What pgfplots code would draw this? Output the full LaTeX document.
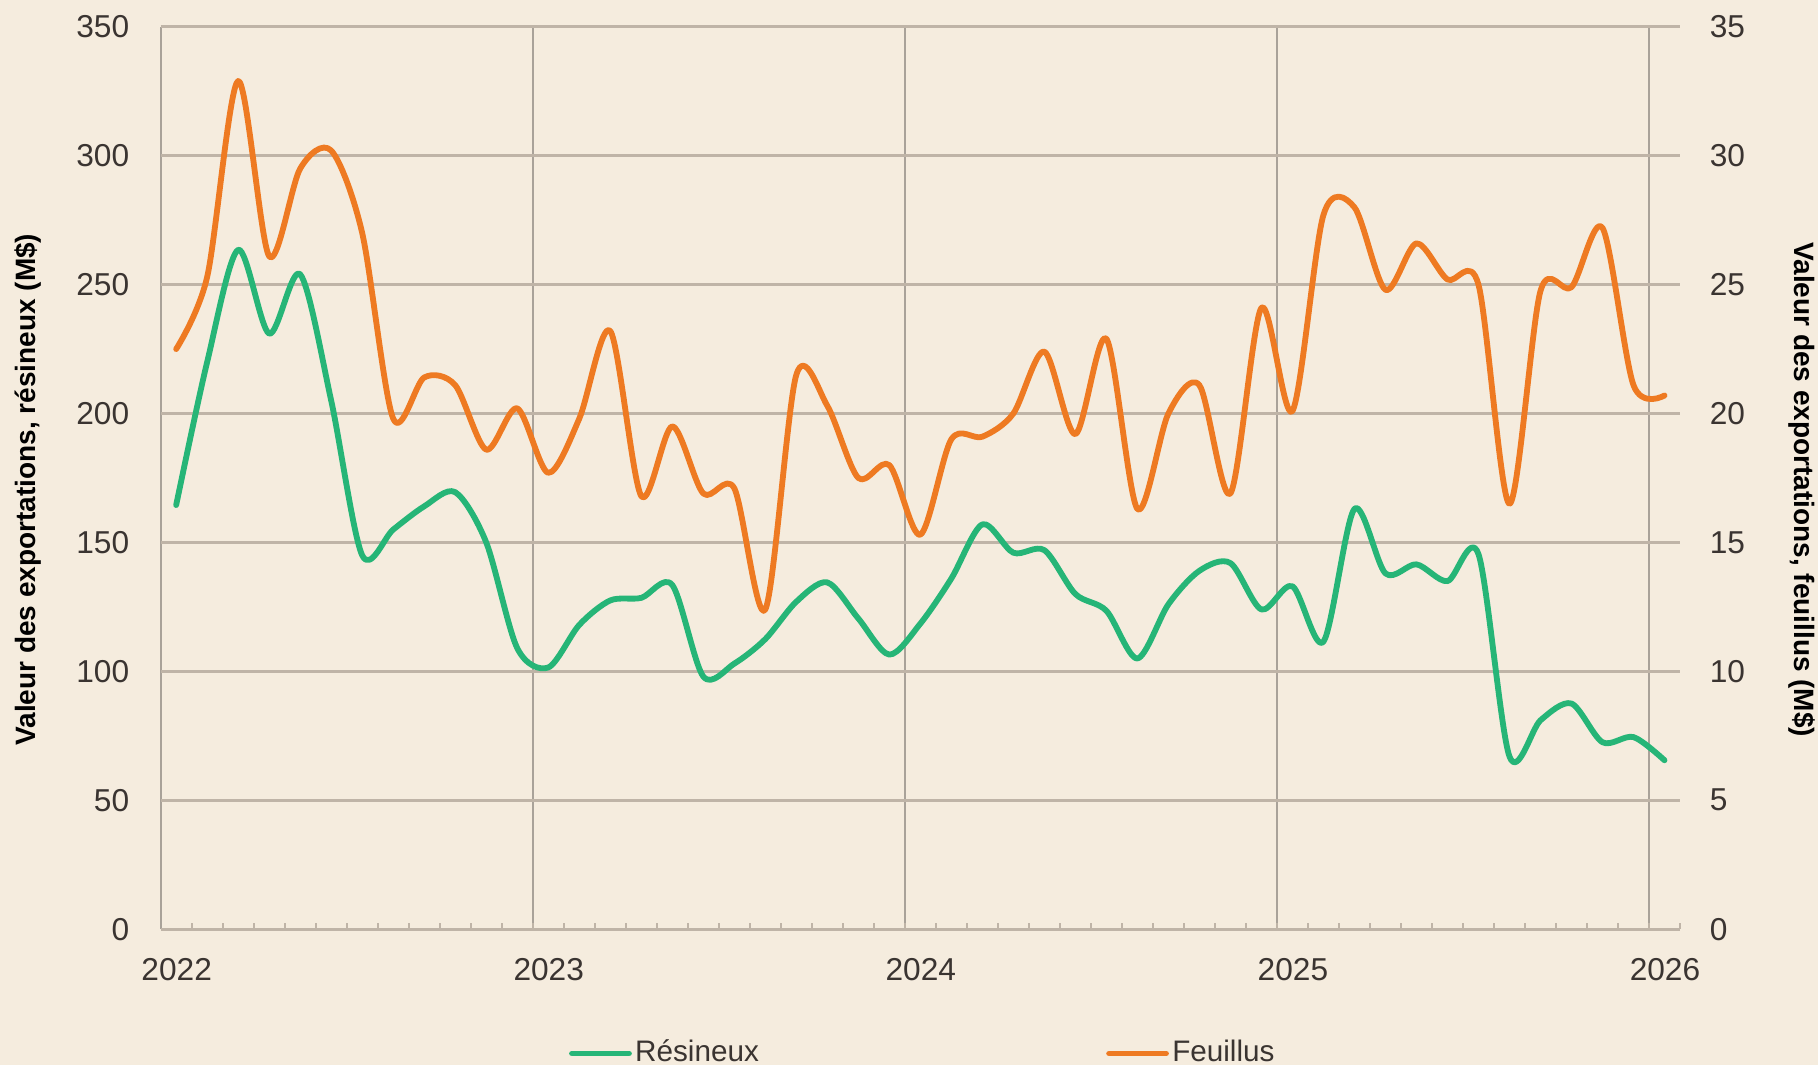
\documentclass[border=0pt]{standalone}
\usepackage{pgfplots}
\usepackage{pgfplotstable}
\pgfplotsset{compat=1.18}
\usepackage{fontspec}
\setmainfont{Liberation Sans}
\definecolor{bg}{HTML}{F5ECDE}
\definecolor{hgrid}{HTML}{BFB4A7}
\definecolor{vgrid}{HTML}{A9A299}
\definecolor{resin}{HTML}{26B577}
\definecolor{feuil}{HTML}{EE7A22}
\definecolor{txt}{HTML}{3A3431}

\pgfplotstableread{
m res feu
0 164.5 22.5
1 220 25.3
2 263.5 32.9
3 231 26.1
4 254 29.5
5 205 30.2
6 145 27.0
7 155 19.8
8 164 21.4
9 169.5 21.1
10 150 18.6
11 109 20.2
12 101.5 17.7
13 118 19.8
14 127.5 23.2
15 128.5 16.8
16 133.5 19.5
17 98 16.9
18 103 17.1
19 112.5 12.4
20 127 21.5
21 134.5 20.3
22 120.5 17.5
23 106.5 18.0
24 118.5 15.3
25 136 19.0
26 157 19.1
27 146 20.0
28 147 22.4
29 130 19.2
30 123.5 22.9
31 105 16.3
32 126 20.0
33 139 21.1
34 142 16.9
35 124 24.1
36 133 20.1
37 111.5 27.7
38 163 28.0
39 138 24.8
40 141.5 26.6
41 135 25.2
42 145.5 25.0
43 67 16.5
44 81 24.75
45 87.5 24.9
46 72.5 27.2
47 74.5 21.1
48 65.5 20.7
}\data

\begin{document}
\begin{tikzpicture}
\fill[bg] (-48.2pt,-40.8pt) rectangle (497.2pt,278.74pt);
\begin{axis}[
  scale only axis, width=455.8pt, height=270.7pt,
  at={(0,0)}, anchor=south west,
  xmin=0, xmax=49, ymin=0, ymax=350,
  xtick={0,12,24,36,48}, xticklabels={2022,2023,2024,2025,2026},
  minor xtick={1,...,49},
  ytick={0,50,...,350},
  xmajorgrids, ymajorgrids,
  x grid style={vgrid, line width=0.6pt},
  y grid style={hgrid, line width=0.9pt},
  axis x line*=bottom, axis y line*=left,
  x axis line style={hgrid, line width=0.9pt, -},
  y axis line style={draw=none},
  tick align=inside,
  major tick length=0pt,
  minor tick length=1.8pt,
  minor tick style={hgrid, line width=0.6pt},
  /pgf/number format/assume math mode=true,
  tick label style={font=\fontsize{9.5}{11}\selectfont, text=txt},
  xticklabel style={xshift=4.8pt, yshift=-5.2pt},
  yticklabel style={xshift=-5.9pt},
  ylabel={Valeur des exportations, résineux (M\$)},
  ylabel style={font=\fontsize{8.4}{10}\selectfont\bfseries, at={(axis description cs:-0.0875,0.487)}, anchor=center},
  legend style={draw=none, fill=none, inner sep=0pt, nodes={inner sep=1pt}, at={(axis description cs:0.2684,-0.1378)}, anchor=west, font=\fontsize{8.9}{10}\selectfont, text=txt},
]
\addplot[resin, line width=1.75pt, smooth, line join=round, line cap=round] table[x expr=\thisrow{m}+0.5, y=res] {\data};
\addlegendentry{Résineux}
\end{axis}
\begin{axis}[
  scale only axis, width=455.8pt, height=270.7pt,
  at={(0,0)}, anchor=south west,
  xmin=0, xmax=49, ymin=0, ymax=35,
  axis x line=none, axis y line*=right,
  y axis line style={draw=none},
  ytick={0,5,...,35},
  major tick length=0pt,
  /pgf/number format/assume math mode=true,
  tick label style={font=\fontsize{9.5}{11}\selectfont, text=txt},
  yticklabel style={xshift=5.4pt},
  ylabel={Valeur des exportations, feuillus (M\$)},
  ylabel style={font=\fontsize{8.4}{10}\selectfont\bfseries, at={(axis description cs:1.0803,0.487)}, anchor=center, rotate=180},
  legend style={draw=none, fill=none, inner sep=0pt, nodes={inner sep=1pt}, at={(axis description cs:0.6219,-0.1378)}, anchor=west, font=\fontsize{8.9}{10}\selectfont, text=txt},
]
\addplot[feuil, line width=1.75pt, smooth, line join=round, line cap=round] table[x expr=\thisrow{m}+0.5, y=feu] {\data};
\addlegendentry{Feuillus}
\end{axis}
\pgfresetboundingbox
\path[use as bounding box] (-48.2pt,-40.8pt) rectangle (497.2pt,278.74pt);
\end{tikzpicture}
\end{document}
